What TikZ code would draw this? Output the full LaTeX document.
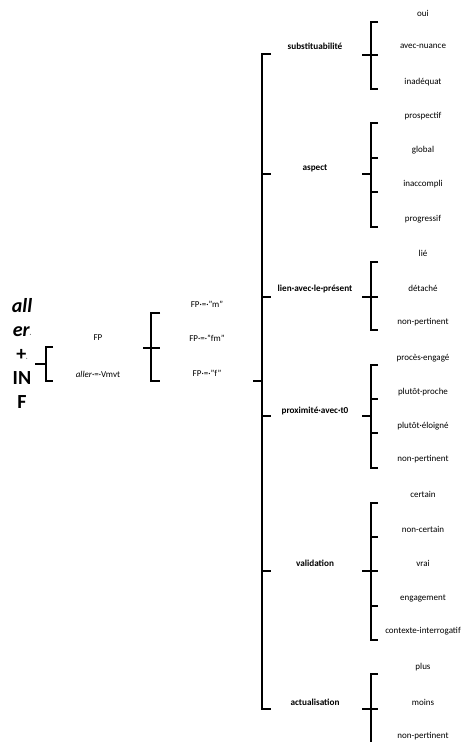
\documentclass[tikz,border=0pt]{standalone}
\usepackage{fontspec}
\setmainfont{Carlito}
\usetikzlibrary{positioning}

\begin{document}
\begin{tikzpicture}[x=1pt, y=-1pt,
    brk/.style={line width=2.6pt, line join=miter},
    item/.style={font=\fontsize{9}{11}\selectfont, inner sep=0pt},
    head/.style={font=\fontsize{9.2}{11}\selectfont\bfseries, inner sep=0pt},
    titre/.style={font=\fontsize{20}{24}\selectfont\bfseries, align=center, inner sep=0pt}]

    \useasboundingbox (0,0) rectangle (464,742);

    % aller + INF
    \node[titre] (inf) at (22,353) {\itshape all\\\itshape er{\fontsize{6}{6}\selectfont\mdseries·}\\+{\fontsize{6}{6}\selectfont\mdseries·}\\IN\\F};
    \draw[brk] (53,347) -- (46,347) -- (46,381) -- (53,381) (35,364) -- (46,364);

    \node[item] (fp) at (98,338) {FP};
    \node[item] (vmvt) at (98,374) {\textit{aller}·=·Vmvt};
    \draw[brk] (160,313) -- (151,313) -- (151,381) -- (160,381) (143,348) -- (160,348);

    \node[item] (fpm) at (207,304) {FP·=·"m"};
    \node[item] (fpfm) at (207,338) {FP·=·"fm"};
    \node[item] (fpf) at (207,373) {FP·=·"f"};

    % grand crochet
    \draw[brk] (271,54) -- (262,54) -- (262,709) -- (271,709);
    \draw[brk] (253,381) -- (262,381);
    \draw[brk] (262,174) -- (271,174) (262,297) -- (271,297) (262,416) -- (271,416) (262,571) -- (271,571);

    \node[head] (subst) at (315,46) {substituabilité};
    \node[head] (aspect) at (315,168) {aspect};
    \node[head] (lien) at (315,289) {lien·avec·le·présent};
    \node[head] (proxi) at (315,411) {proximité·avec·t0};
    \node[head] (valid) at (315,563) {validation};
    \node[head] (actu) at (315,702) {actualisation};

    % substituabilite
    \draw[brk] (378,22) -- (371,22) -- (371,89) -- (378,89) (362,55) -- (378,55);
    \node[item] (oui) at (423,13) {oui};
    \node[item] (nuance) at (423,46) {avec-nuance};
    \node[item] (inadeq) at (423,82) {inadéquat};

    % aspect
    \draw[brk] (378,123) -- (371,123) -- (371,227) -- (378,227) (371,158) -- (378,158) (371,192) -- (378,192) (362,174) -- (371,174);
    \node[item] (prosp) at (423,116) {prospectif};
    \node[item] (global) at (423,150) {global};
    \node[item] (inacc) at (423,184) {inaccompli};
    \node[item] (progr) at (423,219) {progressif};

    % lien avec le present
    \draw[brk] (378,262) -- (371,262) -- (371,330) -- (378,330) (362,297) -- (378,297);
    \node[item] (lie) at (423,253) {lié};
    \node[item] (detache) at (423,288) {détaché};
    \node[item] (nonpert1) at (423,322) {non-pertinent};

    % proximite avec t0
    \draw[brk] (378,365) -- (371,365) -- (371,468) -- (378,468) (371,399) -- (378,399) (371,433) -- (378,433) (362,416) -- (371,416);
    \node[item] (engage) at (423,358) {procès·engagé};
    \node[item] (proche) at (423,392) {plutôt·proche};
    \node[item] (eloigne) at (423,426) {plutôt·éloigné};
    \node[item] (nonpert2) at (423,459) {non-pertinent};

    % validation
    \draw[brk] (378,503) -- (371,503) -- (371,640) -- (378,640) (371,537) -- (378,537) (371,606) -- (378,606) (362,571) -- (378,571);
    \node[item] (certain) at (423,494) {certain};
    \node[item] (noncert) at (423,529) {non-certain};
    \node[item] (vrai) at (423,563) {vrai};
    \node[item] (engag) at (423,598) {engagement};
    \node[item] (interro) at (423,631) {contexte-interrogatif};

    % actualisation
    \draw[brk] (378,674) -- (371,674) -- (371,750) (362,709) -- (378,709);
    \node[item] (plus) at (423,667) {plus};
    \node[item] (moins) at (423,702) {moins};
    \node[item] (nonpert3) at (423,736) {non-pertinent};
\end{tikzpicture}
\end{document}
